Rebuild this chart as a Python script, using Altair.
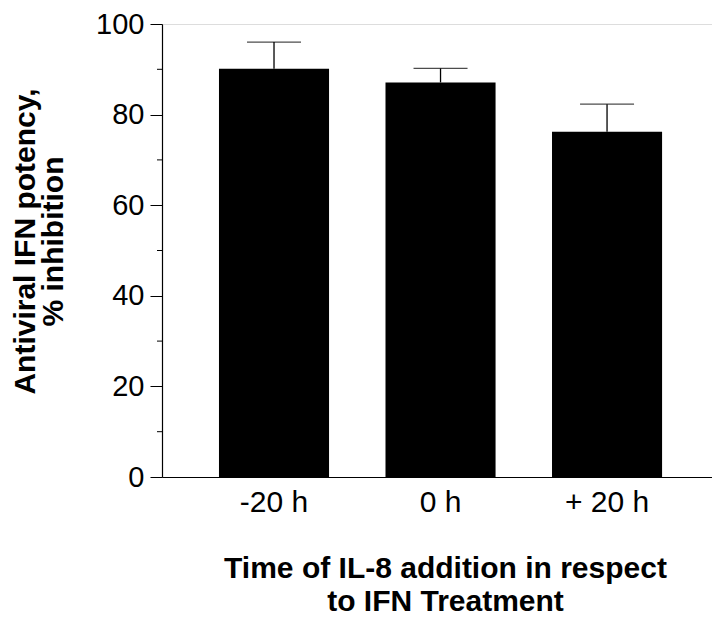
import altair as alt
import pandas as pd

categories = ["-20 h", "0 h", "+ 20 h"]
means = [90.1, 87.1, 76.2]
errors = [5.9, 3.1, 6.1]
major_ticks = [0, 20, 40, 60, 80, 100]
minor_ticks = [10, 30, 50, 70, 90]

df = pd.DataFrame({"time": categories, "mean": means, "err": errors})
df["upper"] = df["mean"] + df["err"]
minor_df = pd.DataFrame({"v": minor_ticks})

FONT = "Liberation Sans"

xscale = alt.Scale(paddingInner=0.339, paddingOuter=0.321, align=0.533)
yscale = alt.Scale(domain=[0, 100], nice=False, zero=True)

x_axis = alt.Axis(
    title=["Time of IL-8 addition in respect", "to IFN Treatment"],
    labelAngle=0, ticks=False, tickSize=0, labelPadding=10,
    labelFontSize=30, labelFont=FONT, labelColor="black",
    titleFont=FONT, titleFontSize=30, titleFontWeight="bold", titleColor="black",
    titleX=283, titleAlign="center",
    titleY=76, titleBaseline="top", titleLineHeight=33,
    domainColor="black", domainWidth=1.2,
)
y_axis = alt.Axis(
    values=major_ticks, title=["Antiviral IFN potency,", "% inhibition"],
    tickSize=12, tickColor="black", tickWidth=1, labelPadding=6,
    labelFontSize=29, labelFont=FONT, labelColor="black",
    titleFont=FONT, titleFontSize=30, titleFontWeight="bold", titleColor="black",
    titleAngle=270, titleX=-152, titleY=217, titleAlign="center",
    titleBaseline="top", titleLineHeight=28,
    domainColor="black", domainWidth=1.2, grid=False,
)

base = alt.Chart(df)

X = alt.X("time:N", sort=categories, scale=xscale, axis=x_axis)

bars = base.mark_bar(color="black").encode(
    x=X,
    y=alt.Y("mean:Q", scale=yscale, axis=y_axis),
)

err_rule = base.mark_rule(color="black", strokeWidth=1.3).encode(
    x=X,
    y=alt.Y("mean:Q", scale=yscale, axis=y_axis),
    y2="upper:Q",
)

err_cap = base.mark_tick(color="black", size=54, thickness=1.3).encode(
    x=X,
    y=alt.Y("upper:Q", scale=yscale, axis=y_axis),
)

minor = alt.Chart(minor_df).mark_rule(color="black", strokeWidth=1).encode(
    y=alt.Y("v:Q", scale=yscale, axis=y_axis),
    x=alt.value(-5),
    x2=alt.value(0),
)

chart = alt.layer(bars, err_rule, err_cap, minor).properties(
    width=550, height=453,
    padding={"left": 154, "top": 16, "right": 0, "bottom": 140},
    autosize=alt.AutoSizeParams(type="none"),
).configure_view(strokeWidth=0).configure(background="white")

chart.save("out.html", embed_options={"renderer": "svg", "actions": False})
